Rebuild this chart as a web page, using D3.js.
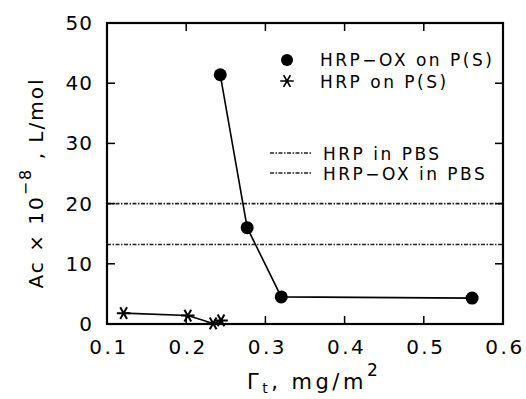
<!DOCTYPE html>
<html>
<head>
<meta charset="utf-8">
<script src="https://cdn.jsdelivr.net/npm/d3@7"></script>
<style>
  body { margin: 0; background: #fff; }
  text { font-family: "DejaVu Sans", sans-serif; fill: #000; }
</style>
</head>
<body>
<div id="chart"></div>
<script>
// HRP-OX adsorbed on P(S)
const oxGamma = [0.243, 0.277, 0.320, 0.561];
const oxAc = [41.4, 16.0, 4.5, 4.3];
// HRP adsorbed on P(S)
const hrpGamma = [0.121, 0.202, 0.234, 0.244];
const hrpAc = [1.8, 1.4, 0.1, 0.6];
// solution references
const pbsNames = ["HRP in PBS", "HRP-OX in PBS"];
const pbsAc = [20.0, 13.2];

const xTicks = [0.1, 0.2, 0.3, 0.4, 0.5, 0.6];
const yTicks = [0, 10, 20, 30, 40, 50];

const W = 526, H = 399;
const mLeft = 107, mTop = 23, plotW = 396, plotH = 301;

const svg = d3.select("#chart").append("svg")
    .attr("width", W).attr("height", H);

const x = d3.scaleLinear().domain([0.1, 0.6]).range([mLeft, mLeft + plotW]);
const y = d3.scaleLinear().domain([0, 50]).range([mTop + plotH, mTop]);

// reference lines (dash-dot)
svg.selectAll(".pbs").data(pbsAc).enter().append("line")
    .attr("x1", x(0.1)).attr("x2", x(0.6))
    .attr("y1", d => y(d)).attr("y2", d => y(d))
    .style("stroke", "#222").style("stroke-width", 1.6)
    .style("stroke-dasharray", "4,1.5,1.5,1.5");

// inner ticks on all sides
const tickLen = 8;
const g = svg.append("g");
xTicks.slice(1, -1).forEach(t => {
    g.append("line").attr("x1", x(t)).attr("x2", x(t))
        .attr("y1", y(0)).attr("y2", y(0) - tickLen);
    g.append("line").attr("x1", x(t)).attr("x2", x(t))
        .attr("y1", y(50)).attr("y2", y(50) + tickLen);
});
yTicks.slice(1, -1).forEach(t => {
    g.append("line").attr("x1", x(0.1)).attr("x2", x(0.1) + tickLen)
        .attr("y1", y(t)).attr("y2", y(t));
    g.append("line").attr("x1", x(0.6)).attr("x2", x(0.6) - tickLen)
        .attr("y1", y(t)).attr("y2", y(t));
});
g.selectAll("line").style("stroke", "#000").style("stroke-width", 1.5);

// frame
svg.append("rect")
    .attr("x", mLeft).attr("y", mTop).attr("width", plotW).attr("height", plotH)
    .style("fill", "none").style("stroke", "#000").style("stroke-width", 2.2);

// tick labels
svg.selectAll(".xl").data(xTicks).enter().append("text")
    .attr("x", d => x(d) + 2).attr("y", 354)
    .attr("text-anchor", "middle")
    .style("font-size", "20px").style("letter-spacing", "2.5px")
    .text(d => d.toFixed(1));
svg.selectAll(".yl").data(yTicks).enter().append("text")
    .attr("x", 93).attr("y", d => y(d) + 7)
    .attr("text-anchor", "end")
    .style("font-size", "20px").style("letter-spacing", "1px")
    .text(d => d);

// data lines
const line = d3.line().x(d => x(d[0])).y(d => y(d[1]));
const oxPts = oxGamma.map((v, i) => [v, oxAc[i]]);
const hrpPts = hrpGamma.map((v, i) => [v, hrpAc[i]]);

svg.append("path").datum(oxPts).attr("d", line)
    .style("fill", "none").style("stroke", "#000").style("stroke-width", 1.6);
svg.append("path").datum(hrpPts).attr("d", line)
    .style("fill", "none").style("stroke", "#000").style("stroke-width", 1.6);

svg.selectAll(".ox").data(oxPts).enter().append("circle")
    .attr("cx", d => x(d[0])).attr("cy", d => y(d[1])).attr("r", 6.5)
    .style("fill", "#000");

const star = d3.symbol().type(d3.symbolAsterisk).size(130);
svg.selectAll(".hrp").data(hrpPts).enter().append("path")
    .attr("d", star)
    .attr("transform", d => "translate(" + x(d[0]) + "," + y(d[1]) + ") rotate(90)")
    .style("fill", "none").style("stroke", "#000").style("stroke-width", 2);

// legend
const leg = svg.append("g");
leg.append("circle").attr("cx", 287).attr("cy", 60).attr("r", 6).style("fill", "#000");
leg.append("path").attr("d", star)
    .attr("transform", "translate(287,81) rotate(90)")
    .style("fill", "none").style("stroke", "#000").style("stroke-width", 1.7);
leg.append("text").attr("x", 320).attr("y", 66)
    .style("font-size", "17px").style("letter-spacing", "2.5px")
    .text("HRP\u2212OX on P(S)");
leg.append("text").attr("x", 320).attr("y", 88)
    .style("font-size", "17px").style("letter-spacing", "2.5px")
    .text("HRP on P(S)");

pbsNames.forEach((name, i) => {
    const ly = 153 + i * 20;
    leg.append("line").attr("x1", 270).attr("x2", 312)
        .attr("y1", ly).attr("y2", ly)
        .style("stroke", "#222").style("stroke-width", 1.6)
        .style("stroke-dasharray", "4,1.5,1.5,1.5");
    leg.append("text").attr("x", 323).attr("y", ly + 7)
        .style("font-size", "17px").style("letter-spacing", "2.5px")
        .text(name.replace("-", "\u2212"));
});

// axis titles
const xt = svg.append("text").attr("x", 247).attr("y", 389)
    .style("font-size", "21px").style("letter-spacing", "3.5px");
xt.append("tspan").text("\u0393");
xt.append("tspan").attr("dy", 4).style("font-size", "14px").text("t");
xt.append("tspan").attr("dy", -4).text(", mg/m");
xt.append("tspan").attr("dy", -13).style("font-size", "17px").text("2");

const yt = svg.append("text")
    .attr("transform", "translate(43,183) rotate(-90)")
    .attr("text-anchor", "middle")
    .style("font-size", "20px").style("letter-spacing", "2px");
yt.append("tspan").text("Ac \u00d7 10");
yt.append("tspan").attr("dy", -12).style("font-size", "16px").text("\u22128");
yt.append("tspan").attr("dy", 12).text(" , L/mol");
</script>
</body>
</html>
